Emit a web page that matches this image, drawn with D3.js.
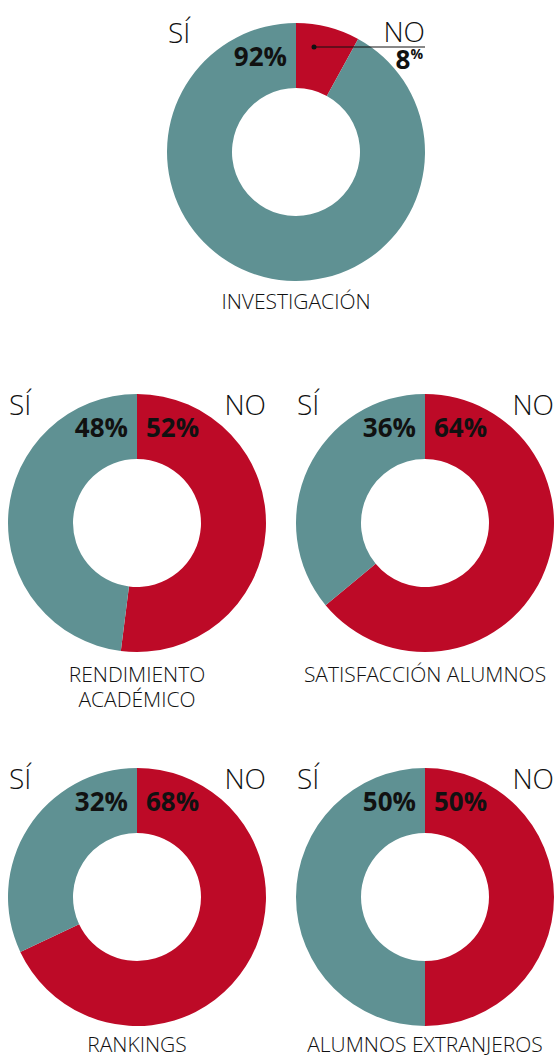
<!DOCTYPE html>
<html>
<head>
<meta charset="utf-8">
<script src="https://cdn.jsdelivr.net/npm/d3@7"></script>
<style>
  html, body { margin: 0; padding: 0; background: #fff; }
  svg { display: block; }
  .lbl { font-family: "Open Sans", sans-serif; font-weight: 300; fill: #111; }
  .pct { font-family: "Open Sans", sans-serif; font-weight: 700; fill: #111; }
</style>
</head>
<body>
<div id="chart"></div>
<script>
// ── Data ──
const categories = ["INVESTIGACIÓN", "RENDIMIENTO|ACADÉMICO", "SATISFACCIÓN ALUMNOS", "RANKINGS", "ALUMNOS EXTRANJEROS"];
const siValues = [92, 48, 36, 32, 50];
const noValues = [8, 52, 64, 68, 50];
const answers = ["NO", "SÍ"];

const WIDTH = 554;
const HEIGHT = 1056;
const OUTER = 129;
const INNER = 64;

// layout of the five donuts, and where each caption sits below its centre
const centers = [[296, 152], [137, 523], [425, 523], [137, 897], [425, 897]];
const captionOffset = [157, 159, 159, 155, 155];

const color = d3.scaleOrdinal().domain(answers).range(["#bd0a27", "#5f9193"]);

const svg = d3.select("#chart").append("svg")
    .attr("width", WIDTH)
    .attr("height", HEIGHT);

const pie = d3.pie().sort(null).value(d => d.value);
const arc = d3.arc().innerRadius(INNER).outerRadius(OUTER);

categories.forEach((cat, i) => {
    const [cx, cy] = centers[i];
    const g = svg.append("g").attr("transform", `translate(${cx},${cy})`);
    const slices = pie([
        { key: "NO", value: noValues[i] },
        { key: "SÍ", value: siValues[i] },
    ]);

    g.selectAll("path")
        .data(slices)
        .enter()
        .append("path")
        .attr("d", arc)
        .attr("fill", d => color(d.data.key));

    const small = noValues[i] < 20;

    // SÍ / NO headers
    g.append("text").attr("class", "lbl")
        .attr("x", -OUTER + 1).attr("y", small ? -109 : -108)
        .attr("font-size", 28)
        .text("SÍ");
    g.append("text").attr("class", "lbl")
        .attr("x", OUTER).attr("y", small ? -110 : -108)
        .attr("text-anchor", "end")
        .attr("font-size", 28)
        .text("NO");

    // percentages
    g.append("text").attr("class", "pct")
        .attr("x", -9).attr("y", -86)
        .attr("text-anchor", "end")
        .attr("font-size", 26)
        .text(siValues[i] + "%");

    if (!small) {
        g.append("text").attr("class", "pct")
            .attr("x", 9).attr("y", -86)
            .attr("font-size", 26)
            .text(noValues[i] + "%");
    } else {
        // small slice: leader line out to the NO label
        const ly = -105;
        g.append("line")
            .attr("x1", 18).attr("y1", ly)
            .attr("x2", OUTER).attr("y2", ly)
            .attr("stroke", "#111").attr("stroke-width", 1);
        g.append("circle")
            .attr("cx", 18).attr("cy", ly).attr("r", 2.5)
            .attr("fill", "#111");
        const t = g.append("text").attr("class", "pct")
            .attr("x", OUTER - 2).attr("y", -83)
            .attr("text-anchor", "end")
            .attr("font-size", 26);
        t.append("tspan").text(noValues[i]);
        t.append("tspan").attr("font-size", 14).attr("dy", -10).text("%");
    }

    // category label
    const lines = cat.split("|");
    lines.forEach((ln, k) => {
        g.append("text").attr("class", "lbl")
            .attr("x", 0).attr("y", captionOffset[i] + k * 25)
            .attr("text-anchor", "middle")
            .attr("font-size", 21)
            .text(ln);
    });
});
</script>
</body>
</html>
